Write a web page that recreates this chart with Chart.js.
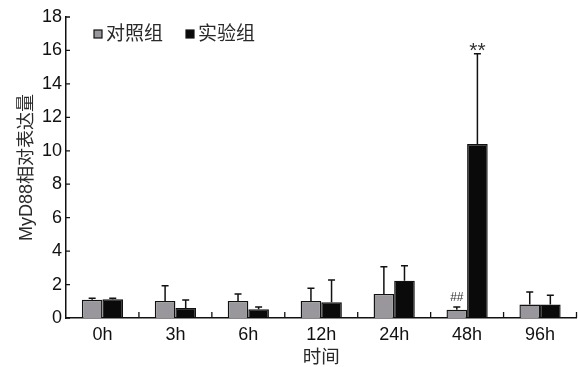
<!DOCTYPE html>
<html>
<head>
<meta charset="utf-8">
<script src="https://cdn.jsdelivr.net/npm/chart.js@4.4.0/dist/chart.umd.min.js"></script>
<style>
  html, body { margin: 0; padding: 0; background: #fff; }
  #wrap { width: 578px; height: 367px; }
</style>
</head>
<body>
<div id="wrap"><canvas id="c" width="578" height="367"></canvas></div>
<script>
// Time points (x axis)
const timePoints = ['0h', '3h', '6h', '12h', '24h', '48h', '96h'];
// Series labels
const seriesNames = ['对照组', '实验组'];
// Mean relative MyD88 expression
const controlMean = [1.09, 1.02, 1.02, 1.02, 1.44, 0.50, 0.80];
const treatMean   = [1.12, 0.60, 0.52, 0.94, 2.23, 10.40, 0.80];
// Standard deviations (upper error bars)
const controlSD = [0.09, 0.91, 0.41, 0.76, 1.63, 0.16, 0.76];
const treatSD   = [0.06, 0.48, 0.14, 1.33, 0.90, 5.40, 0.56];
// Significance marks
const controlMarks = ['', '', '', '', '', '##', ''];
const treatMarks   = ['', '', '', '', '', '**', ''];
// Y axis ticks
const yTicks = [0, 2, 4, 6, 8, 10, 12, 14, 16, 18];

const latin = '"Liberation Sans", Arial, "Noto Sans CJK SC", sans-serif';
const cjk = '"Liberation Sans", "Noto Sans CJK SC", sans-serif';
const grayFill = '#99979b';
const blackFill = '#0a0a0a';

const errorBars = {
  id: 'errorBars',
  afterDatasetsDraw(chart) {
    const ctx = chart.ctx;
    const y = chart.scales.y;
    const sds = [controlSD, treatSD];
    const marks = [controlMarks, treatMarks];
    ctx.save();
    chart.data.datasets.forEach((ds, di) => {
      const meta = chart.getDatasetMeta(di);
      meta.data.forEach((bar, i) => {
        const top = y.getPixelForValue(ds.data[i] + sds[di][i]);
        const base = y.getPixelForValue(ds.data[i]);
        ctx.strokeStyle = '#111';
        ctx.lineWidth = 1.5;
        ctx.beginPath();
        ctx.moveTo(bar.x, base);
        ctx.lineTo(bar.x, top);
        ctx.moveTo(bar.x - 3.5, top);
        ctx.lineTo(bar.x + 3.5, top);
        ctx.stroke();
        const m = marks[di][i];
        if (m) {
          ctx.fillStyle = '#333';
          ctx.textAlign = 'center';
          ctx.textBaseline = 'alphabetic';
          if (m === '**') {
            ctx.font = '21px ' + latin;
            ctx.fillText(m, bar.x, top + 3);
          } else {
            ctx.font = '12px ' + latin;
            ctx.fillText(m, bar.x, top - 5.5);
          }
        }
      });
    });
    ctx.restore();
  }
};

const axisTicks = {
  id: 'axisTicks',
  afterDraw(chart) {
    const ctx = chart.ctx;
    const { x, y } = chart.scales;
    const area = chart.chartArea;
    ctx.save();
    ctx.strokeStyle = '#111';
    ctx.lineWidth = 1.3;
    ctx.beginPath();
    // inward ticks on the value axis
    yTicks.forEach(v => {
      const py = y.getPixelForValue(v);
      ctx.moveTo(area.left, py);
      ctx.lineTo(area.left + 4, py);
    });
    // upward ticks between time points
    for (let i = 0; i < timePoints.length; i++) {
      const px = x.getPixelForValue(i) + (x.getPixelForValue(1) - x.getPixelForValue(0)) / 2;
      ctx.moveTo(px, area.bottom);
      ctx.lineTo(px, area.bottom - 6);
    }
    ctx.stroke();
    ctx.restore();
  }
};

const legendBox = {
  id: 'legendBox',
  afterDraw(chart) {
    const ctx = chart.ctx;
    const items = [
      { x: 94, fill: grayFill, text: seriesNames[0] },
      { x: 186, fill: blackFill, text: seriesNames[1] }
    ];
    ctx.save();
    items.forEach(it => {
      ctx.fillStyle = it.fill;
      ctx.fillRect(it.x, 30, 8, 8);
      ctx.strokeStyle = '#111';
      ctx.lineWidth = 1.2;
      ctx.strokeRect(it.x, 30, 8, 8);
      ctx.fillStyle = '#2a2a2a';
      ctx.font = '19px ' + cjk;
      ctx.textAlign = 'left';
      ctx.textBaseline = 'middle';
      ctx.fillText(it.text, it.x + 12, 34.5);
    });
    ctx.restore();
  }
};

new Chart(document.getElementById('c'), {
  type: 'bar',
  data: {
    labels: timePoints,
    datasets: [
      { label: seriesNames[0], data: controlMean, backgroundColor: grayFill, borderColor: '#111', borderWidth: 1.4 },
      { label: seriesNames[1], data: treatMean, backgroundColor: blackFill, borderColor: '#111', borderWidth: 1.4 }
    ]
  },
  options: {
    responsive: false,
    animation: false,
    devicePixelRatio: 1,
    layout: { padding: { top: 17, right: 1.5, left: 0, bottom: 0 } },
    datasets: { bar: { categoryPercentage: 0.565, barPercentage: 1.0 } },
    plugins: { legend: { display: false }, tooltip: { enabled: false } },
    scales: {
      x: {
        grid: { display: false, drawTicks: false },
        border: { display: true, color: '#111', width: 1.5 },
        ticks: { color: '#111', font: { family: latin, size: 18 }, padding: 6 },
        title: { display: true, text: '时间', color: '#2a2a2a', font: { family: cjk, size: 18.5, lineHeight: 1.0 }, padding: { top: 0, bottom: 0 } },
        afterFit(s) { s.height = 49; }
      },
      y: {
        min: 0, max: 18,
        afterBuildTicks(s) { s.ticks = yTicks.map(v => ({ value: v })); },
        grid: { display: false, drawTicks: false },
        border: { display: true, color: '#111', width: 1.5 },
        ticks: { color: '#111', font: { family: latin, size: 18 }, padding: 4 },
        title: { display: true, text: 'MyD88相对表达量', color: '#2a2a2a', font: { family: cjk, size: 18, lineHeight: 1.2 }, padding: { top: 16, bottom: 0 } },
        afterFit(s) { s.width = 66; }
      }
    }
  },
  plugins: [errorBars, axisTicks, legendBox]
});
</script>
</body>
</html>
